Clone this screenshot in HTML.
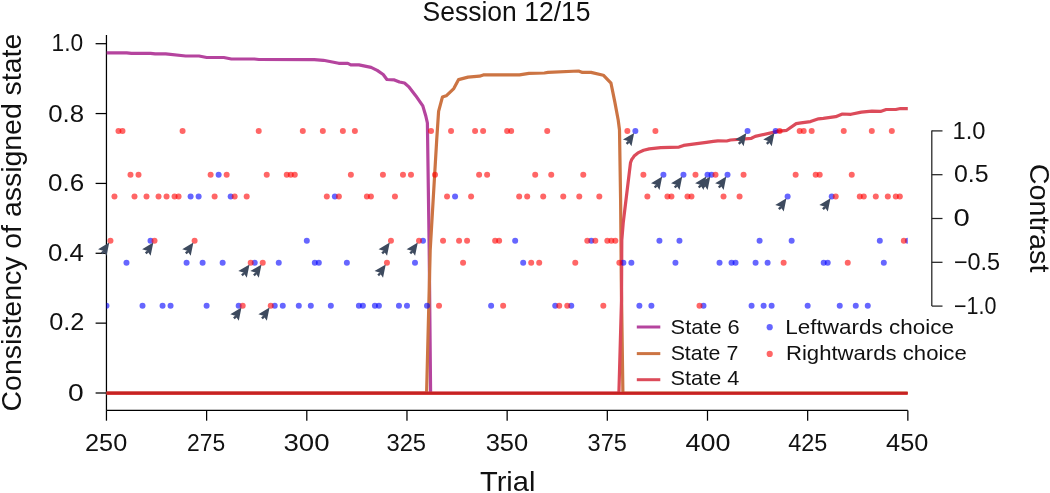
<!DOCTYPE html>
<html><head><meta charset="utf-8"><title>Session 12/15</title>
<style>
html,body{margin:0;padding:0;background:#fff;}
body{width:1050px;height:493px;overflow:hidden;}
svg{display:block;will-change:transform;}
text{font-family:"Liberation Sans",sans-serif;fill:#111;}
</style></head><body>
<svg width="1050" height="493" viewBox="0 0 1050 493">
<defs><clipPath id="pc"><rect x="106.45" y="0" width="801.35" height="410"/></clipPath></defs>

<g stroke="#000" stroke-width="1.25" fill="none">
<line x1="106.45" y1="35" x2="106.45" y2="410.4"/>
<line x1="106.45" y1="410.4" x2="907.8" y2="410.4"/>
<line x1="95.6" y1="393.00" x2="106.45" y2="393.00"/>
<line x1="95.6" y1="323.14" x2="106.45" y2="323.14"/>
<line x1="95.6" y1="253.28" x2="106.45" y2="253.28"/>
<line x1="95.6" y1="183.42" x2="106.45" y2="183.42"/>
<line x1="95.6" y1="113.56" x2="106.45" y2="113.56"/>
<line x1="95.6" y1="43.70" x2="106.45" y2="43.70"/>
<line x1="106.45" y1="410.4" x2="106.45" y2="420.7"/>
<line x1="206.62" y1="410.4" x2="206.62" y2="420.7"/>
<line x1="306.80" y1="410.4" x2="306.80" y2="420.7"/>
<line x1="406.97" y1="410.4" x2="406.97" y2="420.7"/>
<line x1="507.15" y1="410.4" x2="507.15" y2="420.7"/>
<line x1="607.32" y1="410.4" x2="607.32" y2="420.7"/>
<line x1="707.50" y1="410.4" x2="707.50" y2="420.7"/>
<line x1="807.67" y1="410.4" x2="807.67" y2="420.7"/>
<line x1="907.85" y1="410.4" x2="907.85" y2="420.7"/>
<line x1="931.8" y1="130.5" x2="931.8" y2="306.1" stroke="#222"/>
<line x1="931.8" y1="130.90" x2="942.5" y2="130.90" stroke="#222"/>
<line x1="931.8" y1="174.70" x2="942.5" y2="174.70" stroke="#222"/>
<line x1="931.8" y1="218.50" x2="942.5" y2="218.50" stroke="#222"/>
<line x1="931.8" y1="262.30" x2="942.5" y2="262.30" stroke="#222"/>
<line x1="931.8" y1="306.10" x2="942.5" y2="306.10" stroke="#222"/>
</g>
<text x="422.556" y="20.908" font-size="28.000" textLength="167.935" lengthAdjust="spacingAndGlyphs">Session 12/15</text>
<text x="51.607" y="51.284" font-size="23.400" textLength="31.678" lengthAdjust="spacingAndGlyphs">1.0</text>
<text x="48.225" y="121.820" font-size="23.400" textLength="35.945" lengthAdjust="spacingAndGlyphs">0.8</text>
<text x="48.017" y="191.124" font-size="23.400" textLength="36.150" lengthAdjust="spacingAndGlyphs">0.6</text>
<text x="48.043" y="261.096" font-size="23.400" textLength="35.882" lengthAdjust="spacingAndGlyphs">0.4</text>
<text x="49.149" y="330.430" font-size="23.400" textLength="35.200" lengthAdjust="spacingAndGlyphs">0.2</text>
<text x="67.896" y="400.685" font-size="23.400" textLength="15.707" lengthAdjust="spacingAndGlyphs">0</text>
<text x="85.073" y="451.433" font-size="23.400" textLength="42.152" lengthAdjust="spacingAndGlyphs">250</text>
<text x="187.074" y="451.433" font-size="23.400" textLength="38.134" lengthAdjust="spacingAndGlyphs">275</text>
<text x="283.431" y="451.433" font-size="23.400" textLength="46.068" lengthAdjust="spacingAndGlyphs">300</text>
<text x="386.434" y="451.433" font-size="23.400" textLength="39.639" lengthAdjust="spacingAndGlyphs">325</text>
<text x="485.661" y="451.433" font-size="23.400" textLength="42.571" lengthAdjust="spacingAndGlyphs">350</text>
<text x="587.552" y="451.433" font-size="23.400" textLength="39.241" lengthAdjust="spacingAndGlyphs">375</text>
<text x="685.497" y="451.433" font-size="23.400" textLength="44.921" lengthAdjust="spacingAndGlyphs">400</text>
<text x="788.245" y="451.433" font-size="23.400" textLength="39.068" lengthAdjust="spacingAndGlyphs">425</text>
<text x="886.052" y="451.433" font-size="23.400" textLength="42.281" lengthAdjust="spacingAndGlyphs">450</text>
<text x="952.540" y="138.831" font-size="23.400" textLength="33.007" lengthAdjust="spacingAndGlyphs">1.0</text>
<text x="953.904" y="182.444" font-size="23.400" textLength="34.617" lengthAdjust="spacingAndGlyphs">0.5</text>
<text x="953.580" y="226.000" font-size="23.400" textLength="16.281" lengthAdjust="spacingAndGlyphs">0</text>
<text x="953.902" y="269.556" font-size="23.400" textLength="46.232" lengthAdjust="spacingAndGlyphs">−0.5</text>
<text x="953.947" y="313.869" font-size="23.400" textLength="42.435" lengthAdjust="spacingAndGlyphs">−1.0</text>
<text x="479.985" y="491.445" font-size="28.000" textLength="55.404" lengthAdjust="spacingAndGlyphs">Trial</text>
<text transform="translate(20.600,411.466) rotate(-90)" x="0" y="0" font-size="27.600" textLength="377.736" lengthAdjust="spacingAndGlyphs">Consistency of assigned state</text>
<text transform="translate(1029.903,163.857) rotate(90)" x="0" y="0" font-size="27.600" textLength="108.553" lengthAdjust="spacingAndGlyphs">Contrast</text>
<text x="670.620" y="333.782" font-size="20.600" textLength="69.087" lengthAdjust="spacingAndGlyphs">State 6</text>
<text x="670.647" y="359.782" font-size="20.600" textLength="67.613" lengthAdjust="spacingAndGlyphs">State 7</text>
<text x="670.629" y="385.484" font-size="20.600" textLength="68.758" lengthAdjust="spacingAndGlyphs">State 4</text>
<text x="785.322" y="334.030" font-size="20.600" textLength="168.651" lengthAdjust="spacingAndGlyphs">Leftwards choice</text>
<text x="785.927" y="360.296" font-size="20.600" textLength="180.816" lengthAdjust="spacingAndGlyphs">Rightwards choice</text>
<g clip-path="url(#pc)">
<polyline points="106.40,52.80 126.70,52.80 131.40,53.30 150.50,53.30 155.20,53.90 165.70,53.90 185.70,56.00 199.00,56.00 206.70,57.50 223.80,57.50 231.40,59.00 254.30,59.00 259.00,59.50 314.30,59.70 323.40,60.30 338.70,63.30 347.80,63.30 350.80,64.90 358.90,64.90 371.10,67.40 377.20,70.40 383.20,74.50 386.90,79.50 394.40,79.90 399.50,82.00 404.50,83.00 408.60,86.60 415.70,95.70 422.80,105.90 425.80,116.00 427.40,123.00 429.20,250.00 430.60,393.00" fill="none" stroke="#b5449e" stroke-width="3.2" stroke-linejoin="round"/>
<polyline points="106.40,393.00 426.60,393.00 430.20,250.00 436.70,140.00 438.60,111.40 442.40,97.10 446.20,95.80 453.80,88.60 458.60,79.60 468.10,77.10 479.50,76.20 483.30,74.90 519.50,74.90 529.00,73.30 544.30,73.00 548.00,72.40 578.60,71.00 582.40,72.40 591.00,72.40 603.30,75.20 611.00,83.20 614.80,101.90 618.20,120.00 619.50,130.00 620.60,200.00 621.30,280.00 622.90,393.00 907.80,393.00" fill="none" stroke="#cc7443" stroke-width="3.2" stroke-linejoin="round"/>
<polyline points="106.40,393.00 618.90,393.00 621.50,300.00 621.80,240.00 623.20,223.00 630.50,162.80 631.60,159.70 633.30,157.30 634.40,155.70 637.90,152.90 643.60,150.30 649.30,148.90 660.70,147.70 679.00,147.10 683.60,145.40 695.00,143.90 706.40,142.30 713.30,141.40 717.90,140.90 726.70,141.00 730.50,140.00 751.40,138.30 755.20,136.40 773.30,132.40 777.10,131.40 786.70,130.30 796.20,123.60 801.00,122.90 810.50,121.60 818.60,118.80 823.30,118.30 835.70,116.70 842.40,114.00 851.00,114.30 861.40,112.10 871.90,111.20 880.50,111.40 886.20,109.50 895.70,109.50 900.50,108.50 908.50,108.60" fill="none" stroke="#dc4b5a" stroke-width="3.2" stroke-linejoin="round"/>
<line x1="106.45" y1="393.5" x2="907.8" y2="393.5" stroke="#d43c3c" stroke-width="3.0"/>
<line x1="106.45" y1="392.9" x2="907.8" y2="392.9" stroke="#c62222" stroke-width="2.4"/>
</g>
<g clip-path="url(#pc)">
<circle cx="635.37" cy="131.10" r="3.0" fill="#0000ff" fill-opacity="0.6"/>
<circle cx="747.57" cy="131.10" r="3.0" fill="#0000ff" fill-opacity="0.6"/>
<circle cx="775.62" cy="131.10" r="3.0" fill="#0000ff" fill-opacity="0.6"/>
<circle cx="218.65" cy="174.80" r="3.0" fill="#0000ff" fill-opacity="0.6"/>
<circle cx="663.42" cy="174.80" r="3.0" fill="#0000ff" fill-opacity="0.6"/>
<circle cx="683.46" cy="174.80" r="3.0" fill="#0000ff" fill-opacity="0.6"/>
<circle cx="707.50" cy="174.80" r="3.0" fill="#0000ff" fill-opacity="0.6"/>
<circle cx="711.51" cy="174.80" r="3.0" fill="#0000ff" fill-opacity="0.6"/>
<circle cx="727.53" cy="174.80" r="3.0" fill="#0000ff" fill-opacity="0.6"/>
<circle cx="190.60" cy="196.50" r="3.0" fill="#0000ff" fill-opacity="0.6"/>
<circle cx="198.61" cy="196.50" r="3.0" fill="#0000ff" fill-opacity="0.6"/>
<circle cx="230.67" cy="196.50" r="3.0" fill="#0000ff" fill-opacity="0.6"/>
<circle cx="334.85" cy="196.50" r="3.0" fill="#0000ff" fill-opacity="0.6"/>
<circle cx="455.06" cy="196.50" r="3.0" fill="#0000ff" fill-opacity="0.6"/>
<circle cx="787.64" cy="196.50" r="3.0" fill="#0000ff" fill-opacity="0.6"/>
<circle cx="831.72" cy="196.50" r="3.0" fill="#0000ff" fill-opacity="0.6"/>
<circle cx="150.53" cy="240.75" r="3.0" fill="#0000ff" fill-opacity="0.6"/>
<circle cx="306.80" cy="240.75" r="3.0" fill="#0000ff" fill-opacity="0.6"/>
<circle cx="423.00" cy="240.75" r="3.0" fill="#0000ff" fill-opacity="0.6"/>
<circle cx="515.16" cy="240.75" r="3.0" fill="#0000ff" fill-opacity="0.6"/>
<circle cx="591.30" cy="240.75" r="3.0" fill="#0000ff" fill-opacity="0.6"/>
<circle cx="659.42" cy="240.75" r="3.0" fill="#0000ff" fill-opacity="0.6"/>
<circle cx="679.45" cy="240.75" r="3.0" fill="#0000ff" fill-opacity="0.6"/>
<circle cx="759.59" cy="240.75" r="3.0" fill="#0000ff" fill-opacity="0.6"/>
<circle cx="791.65" cy="240.75" r="3.0" fill="#0000ff" fill-opacity="0.6"/>
<circle cx="879.80" cy="240.75" r="3.0" fill="#0000ff" fill-opacity="0.6"/>
<circle cx="907.85" cy="240.75" r="3.0" fill="#0000ff" fill-opacity="0.6"/>
<circle cx="126.48" cy="262.65" r="3.0" fill="#0000ff" fill-opacity="0.6"/>
<circle cx="186.59" cy="262.65" r="3.0" fill="#0000ff" fill-opacity="0.6"/>
<circle cx="202.62" cy="262.65" r="3.0" fill="#0000ff" fill-opacity="0.6"/>
<circle cx="222.65" cy="262.65" r="3.0" fill="#0000ff" fill-opacity="0.6"/>
<circle cx="254.71" cy="262.65" r="3.0" fill="#0000ff" fill-opacity="0.6"/>
<circle cx="278.75" cy="262.65" r="3.0" fill="#0000ff" fill-opacity="0.6"/>
<circle cx="314.81" cy="262.65" r="3.0" fill="#0000ff" fill-opacity="0.6"/>
<circle cx="318.82" cy="262.65" r="3.0" fill="#0000ff" fill-opacity="0.6"/>
<circle cx="346.87" cy="262.65" r="3.0" fill="#0000ff" fill-opacity="0.6"/>
<circle cx="414.99" cy="262.65" r="3.0" fill="#0000ff" fill-opacity="0.6"/>
<circle cx="523.18" cy="262.65" r="3.0" fill="#0000ff" fill-opacity="0.6"/>
<circle cx="623.35" cy="262.65" r="3.0" fill="#0000ff" fill-opacity="0.6"/>
<circle cx="631.37" cy="262.65" r="3.0" fill="#0000ff" fill-opacity="0.6"/>
<circle cx="675.44" cy="262.65" r="3.0" fill="#0000ff" fill-opacity="0.6"/>
<circle cx="719.52" cy="262.65" r="3.0" fill="#0000ff" fill-opacity="0.6"/>
<circle cx="731.54" cy="262.65" r="3.0" fill="#0000ff" fill-opacity="0.6"/>
<circle cx="735.55" cy="262.65" r="3.0" fill="#0000ff" fill-opacity="0.6"/>
<circle cx="755.58" cy="262.65" r="3.0" fill="#0000ff" fill-opacity="0.6"/>
<circle cx="767.61" cy="262.65" r="3.0" fill="#0000ff" fill-opacity="0.6"/>
<circle cx="823.70" cy="262.65" r="3.0" fill="#0000ff" fill-opacity="0.6"/>
<circle cx="827.71" cy="262.65" r="3.0" fill="#0000ff" fill-opacity="0.6"/>
<circle cx="883.81" cy="262.65" r="3.0" fill="#0000ff" fill-opacity="0.6"/>
<circle cx="106.45" cy="305.75" r="3.0" fill="#0000ff" fill-opacity="0.6"/>
<circle cx="142.51" cy="305.75" r="3.0" fill="#0000ff" fill-opacity="0.6"/>
<circle cx="162.55" cy="305.75" r="3.0" fill="#0000ff" fill-opacity="0.6"/>
<circle cx="170.56" cy="305.75" r="3.0" fill="#0000ff" fill-opacity="0.6"/>
<circle cx="206.62" cy="305.75" r="3.0" fill="#0000ff" fill-opacity="0.6"/>
<circle cx="238.68" cy="305.75" r="3.0" fill="#0000ff" fill-opacity="0.6"/>
<circle cx="274.74" cy="305.75" r="3.0" fill="#0000ff" fill-opacity="0.6"/>
<circle cx="282.76" cy="305.75" r="3.0" fill="#0000ff" fill-opacity="0.6"/>
<circle cx="298.79" cy="305.75" r="3.0" fill="#0000ff" fill-opacity="0.6"/>
<circle cx="310.81" cy="305.75" r="3.0" fill="#0000ff" fill-opacity="0.6"/>
<circle cx="330.84" cy="305.75" r="3.0" fill="#0000ff" fill-opacity="0.6"/>
<circle cx="358.89" cy="305.75" r="3.0" fill="#0000ff" fill-opacity="0.6"/>
<circle cx="362.90" cy="305.75" r="3.0" fill="#0000ff" fill-opacity="0.6"/>
<circle cx="374.92" cy="305.75" r="3.0" fill="#0000ff" fill-opacity="0.6"/>
<circle cx="378.93" cy="305.75" r="3.0" fill="#0000ff" fill-opacity="0.6"/>
<circle cx="398.96" cy="305.75" r="3.0" fill="#0000ff" fill-opacity="0.6"/>
<circle cx="406.97" cy="305.75" r="3.0" fill="#0000ff" fill-opacity="0.6"/>
<circle cx="427.01" cy="305.75" r="3.0" fill="#0000ff" fill-opacity="0.6"/>
<circle cx="491.12" cy="305.75" r="3.0" fill="#0000ff" fill-opacity="0.6"/>
<circle cx="555.23" cy="305.75" r="3.0" fill="#0000ff" fill-opacity="0.6"/>
<circle cx="571.26" cy="305.75" r="3.0" fill="#0000ff" fill-opacity="0.6"/>
<circle cx="639.38" cy="305.75" r="3.0" fill="#0000ff" fill-opacity="0.6"/>
<circle cx="651.40" cy="305.75" r="3.0" fill="#0000ff" fill-opacity="0.6"/>
<circle cx="703.49" cy="305.75" r="3.0" fill="#0000ff" fill-opacity="0.6"/>
<circle cx="751.58" cy="305.75" r="3.0" fill="#0000ff" fill-opacity="0.6"/>
<circle cx="763.60" cy="305.75" r="3.0" fill="#0000ff" fill-opacity="0.6"/>
<circle cx="771.61" cy="305.75" r="3.0" fill="#0000ff" fill-opacity="0.6"/>
<circle cx="807.67" cy="305.75" r="3.0" fill="#0000ff" fill-opacity="0.6"/>
<circle cx="839.73" cy="305.75" r="3.0" fill="#0000ff" fill-opacity="0.6"/>
<circle cx="855.76" cy="305.75" r="3.0" fill="#0000ff" fill-opacity="0.6"/>
<circle cx="867.78" cy="305.75" r="3.0" fill="#0000ff" fill-opacity="0.6"/>
<circle cx="118.47" cy="131.10" r="3.0" fill="#ff0000" fill-opacity="0.6"/>
<circle cx="122.48" cy="131.10" r="3.0" fill="#ff0000" fill-opacity="0.6"/>
<circle cx="182.58" cy="131.10" r="3.0" fill="#ff0000" fill-opacity="0.6"/>
<circle cx="258.72" cy="131.10" r="3.0" fill="#ff0000" fill-opacity="0.6"/>
<circle cx="302.79" cy="131.10" r="3.0" fill="#ff0000" fill-opacity="0.6"/>
<circle cx="322.83" cy="131.10" r="3.0" fill="#ff0000" fill-opacity="0.6"/>
<circle cx="342.86" cy="131.10" r="3.0" fill="#ff0000" fill-opacity="0.6"/>
<circle cx="354.88" cy="131.10" r="3.0" fill="#ff0000" fill-opacity="0.6"/>
<circle cx="431.02" cy="131.10" r="3.0" fill="#ff0000" fill-opacity="0.6"/>
<circle cx="451.05" cy="131.10" r="3.0" fill="#ff0000" fill-opacity="0.6"/>
<circle cx="475.09" cy="131.10" r="3.0" fill="#ff0000" fill-opacity="0.6"/>
<circle cx="483.11" cy="131.10" r="3.0" fill="#ff0000" fill-opacity="0.6"/>
<circle cx="507.15" cy="131.10" r="3.0" fill="#ff0000" fill-opacity="0.6"/>
<circle cx="511.16" cy="131.10" r="3.0" fill="#ff0000" fill-opacity="0.6"/>
<circle cx="547.22" cy="131.10" r="3.0" fill="#ff0000" fill-opacity="0.6"/>
<circle cx="627.36" cy="131.10" r="3.0" fill="#ff0000" fill-opacity="0.6"/>
<circle cx="655.41" cy="131.10" r="3.0" fill="#ff0000" fill-opacity="0.6"/>
<circle cx="779.63" cy="131.10" r="3.0" fill="#ff0000" fill-opacity="0.6"/>
<circle cx="799.66" cy="131.10" r="3.0" fill="#ff0000" fill-opacity="0.6"/>
<circle cx="803.67" cy="131.10" r="3.0" fill="#ff0000" fill-opacity="0.6"/>
<circle cx="811.68" cy="131.10" r="3.0" fill="#ff0000" fill-opacity="0.6"/>
<circle cx="843.74" cy="131.10" r="3.0" fill="#ff0000" fill-opacity="0.6"/>
<circle cx="871.79" cy="131.10" r="3.0" fill="#ff0000" fill-opacity="0.6"/>
<circle cx="891.82" cy="131.10" r="3.0" fill="#ff0000" fill-opacity="0.6"/>
<circle cx="130.49" cy="174.80" r="3.0" fill="#ff0000" fill-opacity="0.6"/>
<circle cx="138.51" cy="174.80" r="3.0" fill="#ff0000" fill-opacity="0.6"/>
<circle cx="210.63" cy="174.80" r="3.0" fill="#ff0000" fill-opacity="0.6"/>
<circle cx="226.66" cy="174.80" r="3.0" fill="#ff0000" fill-opacity="0.6"/>
<circle cx="266.73" cy="174.80" r="3.0" fill="#ff0000" fill-opacity="0.6"/>
<circle cx="286.76" cy="174.80" r="3.0" fill="#ff0000" fill-opacity="0.6"/>
<circle cx="290.77" cy="174.80" r="3.0" fill="#ff0000" fill-opacity="0.6"/>
<circle cx="294.78" cy="174.80" r="3.0" fill="#ff0000" fill-opacity="0.6"/>
<circle cx="350.88" cy="174.80" r="3.0" fill="#ff0000" fill-opacity="0.6"/>
<circle cx="382.93" cy="174.80" r="3.0" fill="#ff0000" fill-opacity="0.6"/>
<circle cx="402.97" cy="174.80" r="3.0" fill="#ff0000" fill-opacity="0.6"/>
<circle cx="410.98" cy="174.80" r="3.0" fill="#ff0000" fill-opacity="0.6"/>
<circle cx="435.02" cy="174.80" r="3.0" fill="#ff0000" fill-opacity="0.6"/>
<circle cx="479.10" cy="174.80" r="3.0" fill="#ff0000" fill-opacity="0.6"/>
<circle cx="487.11" cy="174.80" r="3.0" fill="#ff0000" fill-opacity="0.6"/>
<circle cx="535.20" cy="174.80" r="3.0" fill="#ff0000" fill-opacity="0.6"/>
<circle cx="551.23" cy="174.80" r="3.0" fill="#ff0000" fill-opacity="0.6"/>
<circle cx="583.28" cy="174.80" r="3.0" fill="#ff0000" fill-opacity="0.6"/>
<circle cx="643.39" cy="174.80" r="3.0" fill="#ff0000" fill-opacity="0.6"/>
<circle cx="695.48" cy="174.80" r="3.0" fill="#ff0000" fill-opacity="0.6"/>
<circle cx="715.51" cy="174.80" r="3.0" fill="#ff0000" fill-opacity="0.6"/>
<circle cx="743.56" cy="174.80" r="3.0" fill="#ff0000" fill-opacity="0.6"/>
<circle cx="795.65" cy="174.80" r="3.0" fill="#ff0000" fill-opacity="0.6"/>
<circle cx="815.69" cy="174.80" r="3.0" fill="#ff0000" fill-opacity="0.6"/>
<circle cx="819.70" cy="174.80" r="3.0" fill="#ff0000" fill-opacity="0.6"/>
<circle cx="851.75" cy="174.80" r="3.0" fill="#ff0000" fill-opacity="0.6"/>
<circle cx="114.46" cy="196.50" r="3.0" fill="#ff0000" fill-opacity="0.6"/>
<circle cx="134.50" cy="196.50" r="3.0" fill="#ff0000" fill-opacity="0.6"/>
<circle cx="146.52" cy="196.50" r="3.0" fill="#ff0000" fill-opacity="0.6"/>
<circle cx="158.54" cy="196.50" r="3.0" fill="#ff0000" fill-opacity="0.6"/>
<circle cx="166.56" cy="196.50" r="3.0" fill="#ff0000" fill-opacity="0.6"/>
<circle cx="174.57" cy="196.50" r="3.0" fill="#ff0000" fill-opacity="0.6"/>
<circle cx="178.58" cy="196.50" r="3.0" fill="#ff0000" fill-opacity="0.6"/>
<circle cx="214.64" cy="196.50" r="3.0" fill="#ff0000" fill-opacity="0.6"/>
<circle cx="234.67" cy="196.50" r="3.0" fill="#ff0000" fill-opacity="0.6"/>
<circle cx="246.69" cy="196.50" r="3.0" fill="#ff0000" fill-opacity="0.6"/>
<circle cx="326.83" cy="196.50" r="3.0" fill="#ff0000" fill-opacity="0.6"/>
<circle cx="338.86" cy="196.50" r="3.0" fill="#ff0000" fill-opacity="0.6"/>
<circle cx="366.90" cy="196.50" r="3.0" fill="#ff0000" fill-opacity="0.6"/>
<circle cx="370.91" cy="196.50" r="3.0" fill="#ff0000" fill-opacity="0.6"/>
<circle cx="394.95" cy="196.50" r="3.0" fill="#ff0000" fill-opacity="0.6"/>
<circle cx="447.04" cy="196.50" r="3.0" fill="#ff0000" fill-opacity="0.6"/>
<circle cx="471.09" cy="196.50" r="3.0" fill="#ff0000" fill-opacity="0.6"/>
<circle cx="519.17" cy="196.50" r="3.0" fill="#ff0000" fill-opacity="0.6"/>
<circle cx="527.18" cy="196.50" r="3.0" fill="#ff0000" fill-opacity="0.6"/>
<circle cx="543.21" cy="196.50" r="3.0" fill="#ff0000" fill-opacity="0.6"/>
<circle cx="563.25" cy="196.50" r="3.0" fill="#ff0000" fill-opacity="0.6"/>
<circle cx="579.28" cy="196.50" r="3.0" fill="#ff0000" fill-opacity="0.6"/>
<circle cx="599.31" cy="196.50" r="3.0" fill="#ff0000" fill-opacity="0.6"/>
<circle cx="647.39" cy="196.50" r="3.0" fill="#ff0000" fill-opacity="0.6"/>
<circle cx="667.43" cy="196.50" r="3.0" fill="#ff0000" fill-opacity="0.6"/>
<circle cx="671.44" cy="196.50" r="3.0" fill="#ff0000" fill-opacity="0.6"/>
<circle cx="687.47" cy="196.50" r="3.0" fill="#ff0000" fill-opacity="0.6"/>
<circle cx="691.47" cy="196.50" r="3.0" fill="#ff0000" fill-opacity="0.6"/>
<circle cx="723.53" cy="196.50" r="3.0" fill="#ff0000" fill-opacity="0.6"/>
<circle cx="739.56" cy="196.50" r="3.0" fill="#ff0000" fill-opacity="0.6"/>
<circle cx="835.72" cy="196.50" r="3.0" fill="#ff0000" fill-opacity="0.6"/>
<circle cx="859.77" cy="196.50" r="3.0" fill="#ff0000" fill-opacity="0.6"/>
<circle cx="863.77" cy="196.50" r="3.0" fill="#ff0000" fill-opacity="0.6"/>
<circle cx="875.79" cy="196.50" r="3.0" fill="#ff0000" fill-opacity="0.6"/>
<circle cx="887.81" cy="196.50" r="3.0" fill="#ff0000" fill-opacity="0.6"/>
<circle cx="895.83" cy="196.50" r="3.0" fill="#ff0000" fill-opacity="0.6"/>
<circle cx="899.84" cy="196.50" r="3.0" fill="#ff0000" fill-opacity="0.6"/>
<circle cx="110.46" cy="240.75" r="3.0" fill="#ff0000" fill-opacity="0.6"/>
<circle cx="154.53" cy="240.75" r="3.0" fill="#ff0000" fill-opacity="0.6"/>
<circle cx="194.60" cy="240.75" r="3.0" fill="#ff0000" fill-opacity="0.6"/>
<circle cx="390.95" cy="240.75" r="3.0" fill="#ff0000" fill-opacity="0.6"/>
<circle cx="419.00" cy="240.75" r="3.0" fill="#ff0000" fill-opacity="0.6"/>
<circle cx="443.04" cy="240.75" r="3.0" fill="#ff0000" fill-opacity="0.6"/>
<circle cx="459.07" cy="240.75" r="3.0" fill="#ff0000" fill-opacity="0.6"/>
<circle cx="467.08" cy="240.75" r="3.0" fill="#ff0000" fill-opacity="0.6"/>
<circle cx="495.13" cy="240.75" r="3.0" fill="#ff0000" fill-opacity="0.6"/>
<circle cx="499.14" cy="240.75" r="3.0" fill="#ff0000" fill-opacity="0.6"/>
<circle cx="587.29" cy="240.75" r="3.0" fill="#ff0000" fill-opacity="0.6"/>
<circle cx="595.30" cy="240.75" r="3.0" fill="#ff0000" fill-opacity="0.6"/>
<circle cx="607.32" cy="240.75" r="3.0" fill="#ff0000" fill-opacity="0.6"/>
<circle cx="611.33" cy="240.75" r="3.0" fill="#ff0000" fill-opacity="0.6"/>
<circle cx="615.34" cy="240.75" r="3.0" fill="#ff0000" fill-opacity="0.6"/>
<circle cx="903.84" cy="240.75" r="3.0" fill="#ff0000" fill-opacity="0.6"/>
<circle cx="250.70" cy="262.65" r="3.0" fill="#ff0000" fill-opacity="0.6"/>
<circle cx="262.72" cy="262.65" r="3.0" fill="#ff0000" fill-opacity="0.6"/>
<circle cx="386.94" cy="262.65" r="3.0" fill="#ff0000" fill-opacity="0.6"/>
<circle cx="463.07" cy="262.65" r="3.0" fill="#ff0000" fill-opacity="0.6"/>
<circle cx="531.19" cy="262.65" r="3.0" fill="#ff0000" fill-opacity="0.6"/>
<circle cx="539.21" cy="262.65" r="3.0" fill="#ff0000" fill-opacity="0.6"/>
<circle cx="575.27" cy="262.65" r="3.0" fill="#ff0000" fill-opacity="0.6"/>
<circle cx="619.35" cy="262.65" r="3.0" fill="#ff0000" fill-opacity="0.6"/>
<circle cx="783.63" cy="262.65" r="3.0" fill="#ff0000" fill-opacity="0.6"/>
<circle cx="847.75" cy="262.65" r="3.0" fill="#ff0000" fill-opacity="0.6"/>
<circle cx="242.69" cy="305.75" r="3.0" fill="#ff0000" fill-opacity="0.6"/>
<circle cx="270.74" cy="305.75" r="3.0" fill="#ff0000" fill-opacity="0.6"/>
<circle cx="439.03" cy="305.75" r="3.0" fill="#ff0000" fill-opacity="0.6"/>
<circle cx="503.14" cy="305.75" r="3.0" fill="#ff0000" fill-opacity="0.6"/>
<circle cx="559.24" cy="305.75" r="3.0" fill="#ff0000" fill-opacity="0.6"/>
<circle cx="567.25" cy="305.75" r="3.0" fill="#ff0000" fill-opacity="0.6"/>
<circle cx="603.32" cy="305.75" r="3.0" fill="#ff0000" fill-opacity="0.6"/>
<circle cx="699.49" cy="305.75" r="3.0" fill="#ff0000" fill-opacity="0.6"/>
</g>
<g>
<polygon points="109.26,242.55 98.06,249.15 103.06,250.65 106.56,255.85" fill="#3d4a5e"/><line x1="103.86" y1="251.35" x2="101.66" y2="253.45" stroke="#3d4a5e" stroke-width="2.4"/>
<polygon points="153.33,242.55 142.13,249.15 147.13,250.65 150.63,255.85" fill="#3d4a5e"/><line x1="147.93" y1="251.35" x2="145.73" y2="253.45" stroke="#3d4a5e" stroke-width="2.4"/>
<polygon points="193.40,242.55 182.20,249.15 187.20,250.65 190.70,255.85" fill="#3d4a5e"/><line x1="188.00" y1="251.35" x2="185.80" y2="253.45" stroke="#3d4a5e" stroke-width="2.4"/>
<polygon points="389.75,242.55 378.55,249.15 383.55,250.65 387.05,255.85" fill="#3d4a5e"/><line x1="384.35" y1="251.35" x2="382.15" y2="253.45" stroke="#3d4a5e" stroke-width="2.4"/>
<polygon points="417.80,242.55 406.60,249.15 411.60,250.65 415.10,255.85" fill="#3d4a5e"/><line x1="412.40" y1="251.35" x2="410.20" y2="253.45" stroke="#3d4a5e" stroke-width="2.4"/>
<polygon points="249.50,264.45 238.30,271.05 243.30,272.55 246.80,277.75" fill="#3d4a5e"/><line x1="244.10" y1="273.25" x2="241.90" y2="275.35" stroke="#3d4a5e" stroke-width="2.4"/>
<polygon points="261.52,264.45 250.32,271.05 255.32,272.55 258.82,277.75" fill="#3d4a5e"/><line x1="256.12" y1="273.25" x2="253.92" y2="275.35" stroke="#3d4a5e" stroke-width="2.4"/>
<polygon points="385.74,264.45 374.54,271.05 379.54,272.55 383.04,277.75" fill="#3d4a5e"/><line x1="380.34" y1="273.25" x2="378.14" y2="275.35" stroke="#3d4a5e" stroke-width="2.4"/>
<polygon points="241.49,307.55 230.29,314.15 235.29,315.65 238.79,320.85" fill="#3d4a5e"/><line x1="236.09" y1="316.35" x2="233.89" y2="318.45" stroke="#3d4a5e" stroke-width="2.4"/>
<polygon points="269.54,307.55 258.34,314.15 263.34,315.65 266.84,320.85" fill="#3d4a5e"/><line x1="264.14" y1="316.35" x2="261.94" y2="318.45" stroke="#3d4a5e" stroke-width="2.4"/>
<polygon points="634.17,132.90 622.97,139.50 627.97,141.00 631.47,146.20" fill="#3d4a5e"/><line x1="628.77" y1="141.70" x2="626.57" y2="143.80" stroke="#3d4a5e" stroke-width="2.4"/>
<polygon points="746.37,132.90 735.17,139.50 740.17,141.00 743.67,146.20" fill="#3d4a5e"/><line x1="740.97" y1="141.70" x2="738.77" y2="143.80" stroke="#3d4a5e" stroke-width="2.4"/>
<polygon points="774.42,132.90 763.22,139.50 768.22,141.00 771.72,146.20" fill="#3d4a5e"/><line x1="769.02" y1="141.70" x2="766.82" y2="143.80" stroke="#3d4a5e" stroke-width="2.4"/>
<polygon points="662.22,176.60 651.02,183.20 656.02,184.70 659.52,189.90" fill="#3d4a5e"/><line x1="656.82" y1="185.40" x2="654.62" y2="187.50" stroke="#3d4a5e" stroke-width="2.4"/>
<polygon points="682.26,176.60 671.06,183.20 676.06,184.70 679.56,189.90" fill="#3d4a5e"/><line x1="676.86" y1="185.40" x2="674.66" y2="187.50" stroke="#3d4a5e" stroke-width="2.4"/>
<polygon points="706.30,176.60 695.10,183.20 700.10,184.70 703.60,189.90" fill="#3d4a5e"/><line x1="700.90" y1="185.40" x2="698.70" y2="187.50" stroke="#3d4a5e" stroke-width="2.4"/>
<polygon points="710.31,176.60 699.11,183.20 704.11,184.70 707.61,189.90" fill="#3d4a5e"/><line x1="704.91" y1="185.40" x2="702.71" y2="187.50" stroke="#3d4a5e" stroke-width="2.4"/>
<polygon points="726.33,176.60 715.13,183.20 720.13,184.70 723.63,189.90" fill="#3d4a5e"/><line x1="720.93" y1="185.40" x2="718.74" y2="187.50" stroke="#3d4a5e" stroke-width="2.4"/>
<polygon points="786.44,198.30 775.24,204.90 780.24,206.40 783.74,211.60" fill="#3d4a5e"/><line x1="781.04" y1="207.10" x2="778.84" y2="209.20" stroke="#3d4a5e" stroke-width="2.4"/>
<polygon points="830.52,198.30 819.32,204.90 824.32,206.40 827.82,211.60" fill="#3d4a5e"/><line x1="825.12" y1="207.10" x2="822.92" y2="209.20" stroke="#3d4a5e" stroke-width="2.4"/>
</g>
<line x1="636.8" y1="327.0" x2="660.3" y2="327.0" stroke="#b5449e" stroke-width="3"/>
<line x1="636.8" y1="353.6" x2="660.3" y2="353.6" stroke="#cc7443" stroke-width="3"/>
<line x1="636.8" y1="379.7" x2="660.3" y2="379.7" stroke="#dc4b5a" stroke-width="3"/>
<circle cx="769.7" cy="327.2" r="3.1" fill="#0000ff" fill-opacity="0.6"/>
<circle cx="769.7" cy="353.9" r="3.1" fill="#ff0000" fill-opacity="0.6"/>
</svg></body></html>
